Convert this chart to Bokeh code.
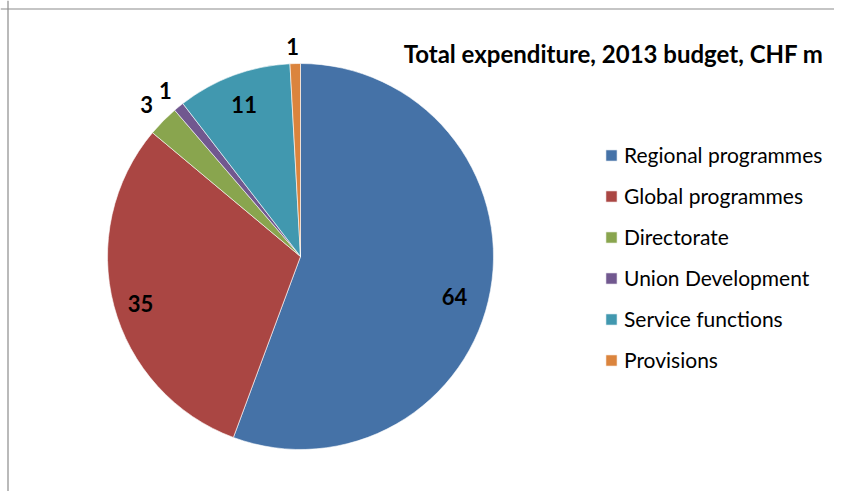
import math
from bokeh.plotting import figure
from bokeh.models import Range1d, Span, Legend, LegendItem, Label, ColumnDataSource
from bokeh.embed import file_html
from bokeh.resources import INLINE
from bokeh.core.properties import value

# ---- data ----
categories = ["Regional programmes", "Global programmes", "Directorate",
              "Union Development", "Service functions", "Provisions"]
values = [64, 35, 3, 1, 11, 1]
colors = ["#4572A7", "#AA4643", "#89A54E", "#71588F", "#4198AF", "#DB843D"]
title_text = "Total expenditure,  2013 budget, CHF m"

# ---- layout (pixel-like data units, measured from the top) ----
W, H = 834, 491
CX, CY, R = 300, H - 256, 193
label_rf = [0.825, 0.865, 1.12, 1.11, 0.84, 1.09]
label_dang = [4.5, -1.6, 0.0, 0.0, 0.0, -0.6]   # degrees, clockwise
FONT = "Lato"

p = figure(width=W, height=H, x_range=Range1d(0, W), y_range=Range1d(0, H),
           x_axis_type=None, y_axis_type=None, output_backend="svg",
           toolbar_location=None, min_border=0, outline_line_color=None)
p.grid.visible = False
p.background_fill_color = "white"
p.border_fill_color = "white"

total = float(sum(values))
starts, ends = [], []
cum = 0.0
for v in values:
    starts.append(math.pi / 2 - 2 * math.pi * cum / total)
    cum += v
    ends.append(math.pi / 2 - 2 * math.pi * cum / total)

items = []
lx, ly, lt = [], [], []
for i, cat in enumerate(categories):
    src = ColumnDataSource(dict(x=[CX], y=[CY], s=[starts[i]], e=[ends[i]]))
    r = p.wedge(x="x", y="y", radius=R, start_angle="s", end_angle="e",
                direction="clock", source=src, fill_color=colors[i],
                line_color="white", line_width=0.6)
    items.append(LegendItem(label=cat, renderers=[r]))
    mid = (starts[i] + ends[i]) / 2 - math.radians(label_dang[i])
    lx.append(CX + label_rf[i] * R * math.cos(mid))
    ly.append(CY + label_rf[i] * R * math.sin(mid))
    lt.append(str(values[i]))

p.text(x=lx, y=ly, text=lt, text_align="center", text_baseline="middle",
       text_font=value(FONT), text_font_style="bold", text_font_size="22px",
       text_color="black")

p.add_layout(Label(x=616, y=H - 53, text=title_text, text_align="center",
                   text_baseline="middle", text_font=FONT,
                   text_font_style="bold", text_font_size="24px",
                   text_color="black"))

legend = Legend(items=items, location=(604, H - 372), orientation="vertical",
                glyph_width=14, glyph_height=14, label_standoff=6,
                label_text_font=FONT, label_text_font_size="21px",
                label_text_color="black", spacing=16, padding=0, margin=0,
                border_line_color=None, background_fill_alpha=0)
p.add_layout(legend, "center")

# chart frame (top and left edges visible)
p.add_layout(Span(location=7.5, dimension="height", line_color="#8c8c8c", line_width=1.2))
p.add_layout(Span(location=H - 8.5, dimension="width", line_color="#8c8c8c", line_width=1.2))

open("out.html", "w").write(file_html(p, INLINE))
